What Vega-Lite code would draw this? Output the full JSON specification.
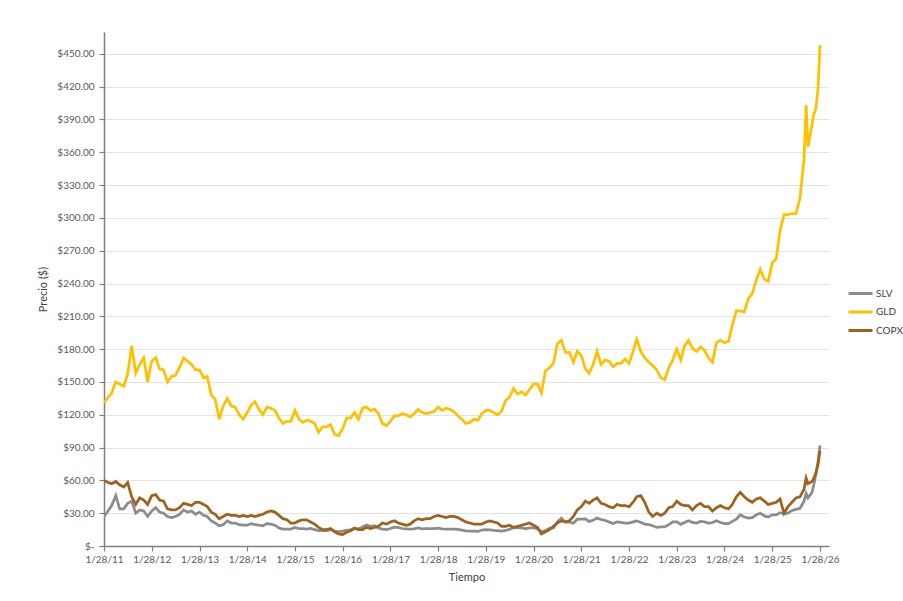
{
  "$schema": "https://vega.github.io/schema/vega-lite/v6.json",
  "autosize": {"type": "none"},
  "width": 725,
  "height": 514,
  "padding": {"left": 104, "top": 32, "right": 74, "bottom": 55},
  "background": "white",
  "config": {"view": {"stroke": null}, "font": "Lato"},
  "data": {"values": [
    {"d":"2011-01-28","SLV":27,"GLD":131,"COPX":60},
    {"d":"2011-02-28","SLV":32,"GLD":136,"COPX":58},
    {"d":"2011-03-28","SLV":37,"GLD":140,"COPX":57},
    {"d":"2011-04-28","SLV":46,"GLD":150,"COPX":59},
    {"d":"2011-05-28","SLV":34,"GLD":148,"COPX":56},
    {"d":"2011-06-28","SLV":34,"GLD":146,"COPX":54},
    {"d":"2011-07-28","SLV":39,"GLD":157,"COPX":58},
    {"d":"2011-08-28","SLV":41,"GLD":183,"COPX":45},
    {"d":"2011-09-28","SLV":30,"GLD":158,"COPX":38},
    {"d":"2011-10-28","SLV":33,"GLD":166,"COPX":44},
    {"d":"2011-11-28","SLV":32,"GLD":172,"COPX":42},
    {"d":"2011-12-28","SLV":27,"GLD":150,"COPX":38},
    {"d":"2012-01-28","SLV":32,"GLD":169,"COPX":46},
    {"d":"2012-02-28","SLV":35,"GLD":172,"COPX":47},
    {"d":"2012-03-28","SLV":31,"GLD":162,"COPX":42},
    {"d":"2012-04-28","SLV":30,"GLD":161,"COPX":41},
    {"d":"2012-05-28","SLV":27,"GLD":150,"COPX":34},
    {"d":"2012-06-28","SLV":26,"GLD":155,"COPX":33},
    {"d":"2012-07-28","SLV":27,"GLD":156,"COPX":33},
    {"d":"2012-08-28","SLV":29,"GLD":163,"COPX":35},
    {"d":"2012-09-28","SLV":33,"GLD":172,"COPX":39},
    {"d":"2012-10-28","SLV":31,"GLD":169,"COPX":38},
    {"d":"2012-11-28","SLV":32,"GLD":166,"COPX":37},
    {"d":"2012-12-28","SLV":29,"GLD":161,"COPX":40},
    {"d":"2013-01-28","SLV":31,"GLD":161,"COPX":40},
    {"d":"2013-02-28","SLV":28,"GLD":154,"COPX":38},
    {"d":"2013-03-28","SLV":27,"GLD":155,"COPX":36},
    {"d":"2013-04-28","SLV":23,"GLD":138,"COPX":31},
    {"d":"2013-05-28","SLV":21,"GLD":134,"COPX":29},
    {"d":"2013-06-28","SLV":18.5,"GLD":116,"COPX":25},
    {"d":"2013-07-28","SLV":19.5,"GLD":128,"COPX":27},
    {"d":"2013-08-28","SLV":23,"GLD":135,"COPX":29},
    {"d":"2013-09-28","SLV":21,"GLD":128,"COPX":28},
    {"d":"2013-10-28","SLV":21,"GLD":127,"COPX":28},
    {"d":"2013-11-28","SLV":19.5,"GLD":120,"COPX":27},
    {"d":"2013-12-28","SLV":19,"GLD":116,"COPX":28},
    {"d":"2014-01-28","SLV":19,"GLD":122,"COPX":27},
    {"d":"2014-02-28","SLV":20.5,"GLD":129,"COPX":28},
    {"d":"2014-03-28","SLV":19.5,"GLD":132,"COPX":27},
    {"d":"2014-04-28","SLV":19,"GLD":125,"COPX":28},
    {"d":"2014-05-28","SLV":18.5,"GLD":120,"COPX":29},
    {"d":"2014-06-28","SLV":20.5,"GLD":127,"COPX":31},
    {"d":"2014-07-28","SLV":20,"GLD":126,"COPX":32},
    {"d":"2014-08-28","SLV":19,"GLD":124,"COPX":31},
    {"d":"2014-09-28","SLV":16.5,"GLD":117,"COPX":28},
    {"d":"2014-10-28","SLV":15.5,"GLD":112,"COPX":25},
    {"d":"2014-11-28","SLV":15.5,"GLD":114,"COPX":24},
    {"d":"2014-12-28","SLV":15.5,"GLD":114,"COPX":21},
    {"d":"2015-01-28","SLV":17,"GLD":124,"COPX":21},
    {"d":"2015-02-28","SLV":16,"GLD":116,"COPX":23},
    {"d":"2015-03-28","SLV":16,"GLD":113,"COPX":24},
    {"d":"2015-04-28","SLV":15.5,"GLD":115,"COPX":24},
    {"d":"2015-05-28","SLV":16,"GLD":114,"COPX":22},
    {"d":"2015-06-28","SLV":15,"GLD":112,"COPX":20},
    {"d":"2015-07-28","SLV":14,"GLD":104,"COPX":17},
    {"d":"2015-08-28","SLV":14,"GLD":109,"COPX":15},
    {"d":"2015-09-28","SLV":14,"GLD":109,"COPX":15},
    {"d":"2015-10-28","SLV":15,"GLD":111,"COPX":16},
    {"d":"2015-11-28","SLV":13.5,"GLD":102,"COPX":13},
    {"d":"2015-12-28","SLV":13.2,"GLD":101,"COPX":11},
    {"d":"2016-01-28","SLV":13.5,"GLD":107,"COPX":10.5},
    {"d":"2016-02-28","SLV":14.5,"GLD":117,"COPX":12.5},
    {"d":"2016-03-28","SLV":14.8,"GLD":117,"COPX":14},
    {"d":"2016-04-28","SLV":16.5,"GLD":122,"COPX":16},
    {"d":"2016-05-28","SLV":15.5,"GLD":116,"COPX":15},
    {"d":"2016-06-28","SLV":17.5,"GLD":126,"COPX":15},
    {"d":"2016-07-28","SLV":19.2,"GLD":127,"COPX":17},
    {"d":"2016-08-28","SLV":18,"GLD":124,"COPX":16},
    {"d":"2016-09-28","SLV":18.5,"GLD":125,"COPX":17},
    {"d":"2016-10-28","SLV":16.5,"GLD":121,"COPX":18},
    {"d":"2016-11-28","SLV":15.5,"GLD":112,"COPX":21},
    {"d":"2016-12-28","SLV":15,"GLD":110,"COPX":20},
    {"d":"2017-01-28","SLV":16,"GLD":114,"COPX":22},
    {"d":"2017-02-28","SLV":17.2,"GLD":119,"COPX":23},
    {"d":"2017-03-28","SLV":17,"GLD":119,"COPX":21},
    {"d":"2017-04-28","SLV":16,"GLD":121,"COPX":20},
    {"d":"2017-05-28","SLV":15.7,"GLD":120,"COPX":19},
    {"d":"2017-06-28","SLV":15.4,"GLD":118,"COPX":20},
    {"d":"2017-07-28","SLV":15.6,"GLD":121,"COPX":23},
    {"d":"2017-08-28","SLV":16.5,"GLD":125,"COPX":25},
    {"d":"2017-09-28","SLV":15.7,"GLD":122,"COPX":24},
    {"d":"2017-10-28","SLV":15.8,"GLD":121,"COPX":25},
    {"d":"2017-11-28","SLV":15.8,"GLD":122,"COPX":25},
    {"d":"2017-12-28","SLV":15.9,"GLD":123,"COPX":27},
    {"d":"2018-01-28","SLV":16.3,"GLD":127,"COPX":28},
    {"d":"2018-02-28","SLV":15.6,"GLD":124,"COPX":27},
    {"d":"2018-03-28","SLV":15.4,"GLD":126,"COPX":26},
    {"d":"2018-04-28","SLV":15.5,"GLD":125,"COPX":27},
    {"d":"2018-05-28","SLV":15.4,"GLD":123,"COPX":27},
    {"d":"2018-06-28","SLV":15.2,"GLD":119,"COPX":26},
    {"d":"2018-07-28","SLV":14.6,"GLD":116,"COPX":24},
    {"d":"2018-08-28","SLV":13.8,"GLD":112,"COPX":22},
    {"d":"2018-09-28","SLV":13.5,"GLD":113,"COPX":21},
    {"d":"2018-10-28","SLV":13.5,"GLD":116,"COPX":20},
    {"d":"2018-11-28","SLV":13.3,"GLD":115,"COPX":20},
    {"d":"2018-12-28","SLV":14.6,"GLD":121,"COPX":20},
    {"d":"2019-01-28","SLV":15,"GLD":124,"COPX":22},
    {"d":"2019-02-28","SLV":14.8,"GLD":124,"COPX":23},
    {"d":"2019-03-28","SLV":14.2,"GLD":122,"COPX":22},
    {"d":"2019-04-28","SLV":14,"GLD":120,"COPX":21},
    {"d":"2019-05-28","SLV":13.6,"GLD":123,"COPX":18},
    {"d":"2019-06-28","SLV":14.2,"GLD":133,"COPX":18},
    {"d":"2019-07-28","SLV":15.2,"GLD":136,"COPX":19},
    {"d":"2019-08-28","SLV":17,"GLD":144,"COPX":17},
    {"d":"2019-09-28","SLV":16.5,"GLD":139,"COPX":18},
    {"d":"2019-10-28","SLV":16.7,"GLD":141,"COPX":19},
    {"d":"2019-11-28","SLV":15.8,"GLD":138,"COPX":20},
    {"d":"2019-12-28","SLV":16.5,"GLD":143,"COPX":21},
    {"d":"2020-01-28","SLV":16.6,"GLD":148,"COPX":19},
    {"d":"2020-02-28","SLV":15.6,"GLD":148,"COPX":17},
    {"d":"2020-03-28","SLV":13,"GLD":140,"COPX":11},
    {"d":"2020-04-28","SLV":14,"GLD":160,"COPX":13},
    {"d":"2020-05-28","SLV":16.2,"GLD":163,"COPX":15},
    {"d":"2020-06-28","SLV":16.5,"GLD":167,"COPX":18},
    {"d":"2020-07-28","SLV":22,"GLD":185,"COPX":21},
    {"d":"2020-08-28","SLV":25.5,"GLD":188,"COPX":23},
    {"d":"2020-09-28","SLV":21.8,"GLD":177,"COPX":22},
    {"d":"2020-10-28","SLV":22,"GLD":177,"COPX":23},
    {"d":"2020-11-28","SLV":20.8,"GLD":168,"COPX":27},
    {"d":"2020-12-28","SLV":24.5,"GLD":178,"COPX":33},
    {"d":"2021-01-28","SLV":24.5,"GLD":174,"COPX":36},
    {"d":"2021-02-28","SLV":24.8,"GLD":162,"COPX":41},
    {"d":"2021-03-28","SLV":22.5,"GLD":158,"COPX":39},
    {"d":"2021-04-28","SLV":23.5,"GLD":166,"COPX":42},
    {"d":"2021-05-28","SLV":25.5,"GLD":178,"COPX":44},
    {"d":"2021-06-28","SLV":24.2,"GLD":166,"COPX":39},
    {"d":"2021-07-28","SLV":23.5,"GLD":170,"COPX":38},
    {"d":"2021-08-28","SLV":22,"GLD":169,"COPX":36},
    {"d":"2021-09-28","SLV":20.5,"GLD":164,"COPX":35},
    {"d":"2021-10-28","SLV":22,"GLD":167,"COPX":38},
    {"d":"2021-11-28","SLV":21.5,"GLD":167,"COPX":37},
    {"d":"2021-12-28","SLV":21,"GLD":171,"COPX":37},
    {"d":"2022-01-28","SLV":21,"GLD":167,"COPX":36},
    {"d":"2022-02-28","SLV":22,"GLD":178,"COPX":40},
    {"d":"2022-03-28","SLV":23,"GLD":189,"COPX":45},
    {"d":"2022-04-28","SLV":21.5,"GLD":178,"COPX":46},
    {"d":"2022-05-28","SLV":20,"GLD":172,"COPX":40},
    {"d":"2022-06-28","SLV":19.5,"GLD":168,"COPX":31},
    {"d":"2022-07-28","SLV":18.5,"GLD":165,"COPX":27},
    {"d":"2022-08-28","SLV":17,"GLD":161,"COPX":30},
    {"d":"2022-09-28","SLV":17.5,"GLD":154,"COPX":28},
    {"d":"2022-10-28","SLV":17.5,"GLD":152,"COPX":30},
    {"d":"2022-11-28","SLV":19.5,"GLD":163,"COPX":35},
    {"d":"2022-12-28","SLV":22,"GLD":170,"COPX":36},
    {"d":"2023-01-28","SLV":22,"GLD":180,"COPX":41},
    {"d":"2023-02-28","SLV":19.8,"GLD":170,"COPX":38},
    {"d":"2023-03-28","SLV":21.5,"GLD":183,"COPX":37},
    {"d":"2023-04-28","SLV":23,"GLD":188,"COPX":37},
    {"d":"2023-05-28","SLV":21.5,"GLD":181,"COPX":33},
    {"d":"2023-06-28","SLV":21,"GLD":178,"COPX":37},
    {"d":"2023-07-28","SLV":22.5,"GLD":182,"COPX":39},
    {"d":"2023-08-28","SLV":22,"GLD":179,"COPX":36},
    {"d":"2023-09-28","SLV":21,"GLD":172,"COPX":36},
    {"d":"2023-10-28","SLV":21.5,"GLD":168,"COPX":32},
    {"d":"2023-11-28","SLV":23,"GLD":186,"COPX":35},
    {"d":"2023-12-28","SLV":21.5,"GLD":188,"COPX":37},
    {"d":"2024-01-28","SLV":20.5,"GLD":186,"COPX":35},
    {"d":"2024-02-28","SLV":20.5,"GLD":187,"COPX":34},
    {"d":"2024-03-28","SLV":22.5,"GLD":202,"COPX":38},
    {"d":"2024-04-28","SLV":24.5,"GLD":215,"COPX":45},
    {"d":"2024-05-28","SLV":28.5,"GLD":215,"COPX":49},
    {"d":"2024-06-28","SLV":26.5,"GLD":214,"COPX":45},
    {"d":"2024-07-28","SLV":25.5,"GLD":226,"COPX":42},
    {"d":"2024-08-28","SLV":26,"GLD":231,"COPX":40},
    {"d":"2024-09-28","SLV":28.5,"GLD":243,"COPX":43},
    {"d":"2024-10-28","SLV":30,"GLD":253,"COPX":44},
    {"d":"2024-11-28","SLV":27.5,"GLD":244,"COPX":41},
    {"d":"2024-12-28","SLV":26.5,"GLD":242,"COPX":38},
    {"d":"2025-01-28","SLV":28.5,"GLD":259,"COPX":39},
    {"d":"2025-02-28","SLV":28.5,"GLD":263,"COPX":40},
    {"d":"2025-03-28","SLV":30.5,"GLD":288,"COPX":43},
    {"d":"2025-04-28","SLV":29.5,"GLD":303,"COPX":30},
    {"d":"2025-05-28","SLV":30,"GLD":303,"COPX":36},
    {"d":"2025-06-28","SLV":32.5,"GLD":304,"COPX":40},
    {"d":"2025-07-28","SLV":33.5,"GLD":304,"COPX":44},
    {"d":"2025-08-28","SLV":34.5,"GLD":318,"COPX":45},
    {"d":"2025-09-28","SLV":41,"GLD":354,"COPX":52},
    {"d":"2025-10-14","SLV":48,"GLD":403,"COPX":62},
    {"d":"2025-10-28","SLV":44,"GLD":365,"COPX":57},
    {"d":"2025-11-28","SLV":49,"GLD":385,"COPX":59},
    {"d":"2025-12-12","SLV":56,"GLD":395,"COPX":62},
    {"d":"2025-12-28","SLV":66,"GLD":400,"COPX":67},
    {"d":"2026-01-14","SLV":78,"GLD":420,"COPX":75},
    {"d":"2026-01-28","SLV":92,"GLD":458,"COPX":87}
  ]},
  "transform": [{"fold": ["SLV", "GLD", "COPX"], "as": ["serie", "precio"]}],
  "mark": {"type": "line", "strokeWidth": 2.75, "clip": true},
  "encoding": {
    "x": {
      "field": "d", "type": "temporal",
      "scale": {"type": "utc", "domain": [{"year": 2011, "month": 1, "date": 28, "utc": true}, {"year": 2026, "month": 4, "date": 7, "utc": true}]},
      "axis": {
        "title": "Tiempo",
        "values": [
          {"year": 2011, "month": 1, "date": 28, "utc": true},
          {"year": 2012, "month": 1, "date": 28, "utc": true},
          {"year": 2013, "month": 1, "date": 28, "utc": true},
          {"year": 2014, "month": 1, "date": 28, "utc": true},
          {"year": 2015, "month": 1, "date": 28, "utc": true},
          {"year": 2016, "month": 1, "date": 28, "utc": true},
          {"year": 2017, "month": 1, "date": 28, "utc": true},
          {"year": 2018, "month": 1, "date": 28, "utc": true},
          {"year": 2019, "month": 1, "date": 28, "utc": true},
          {"year": 2020, "month": 1, "date": 28, "utc": true},
          {"year": 2021, "month": 1, "date": 28, "utc": true},
          {"year": 2022, "month": 1, "date": 28, "utc": true},
          {"year": 2023, "month": 1, "date": 28, "utc": true},
          {"year": 2024, "month": 1, "date": 28, "utc": true},
          {"year": 2025, "month": 1, "date": 28, "utc": true},
          {"year": 2026, "month": 1, "date": 28, "utc": true}
        ],
        "labelExpr": "utcFormat(datum.value, '%-m/%d/%y')",
        "grid": false,
        "domainColor": "#808080", "domainWidth": 1.5,
        "tickColor": "#808080", "tickSize": 5, "tickWidth": 1.2,
        "labelFontSize": 10, "labelColor": "#595959", "labelPadding": 3,
        "labelFlush": false, "labelOverlap": false,
        "titleFontSize": 11, "titleFontWeight": "normal", "titleColor": "#404040",
        "titleY": 31, "titleBaseline": "middle"
      }
    },
    "y": {
      "field": "precio", "type": "quantitative",
      "scale": {"domain": [0, 470], "nice": false},
      "axis": {
        "title": "Precio ($)",
        "values": [0, 30, 60, 90, 120, 150, 180, 210, 240, 270, 300, 330, 360, 390, 420, 450],
        "labelExpr": "datum.value == 0 ? '$-' : '$' + format(datum.value, '.2f')",
        "grid": true, "gridColor": "#e3e3e3", "gridWidth": 1,
        "domainColor": "#808080", "domainWidth": 1.5,
        "tickColor": "#808080", "tickSize": 5, "tickWidth": 1.2,
        "labelFontSize": 10, "labelColor": "#595959", "labelPadding": 5,
        "titleFontSize": 11, "titleFontWeight": "normal", "titleColor": "#404040",
        "titleX": -61, "titleY": 257, "titleBaseline": "middle"
      }
    },
    "color": {
      "field": "serie", "type": "nominal",
      "scale": {"domain": ["SLV", "GLD", "COPX"], "range": ["#8c8c8c", "#FFC000", "#A0621A"]},
      "legend": {
        "title": null, "orient": "none", "legendX": 745, "legendY": 250,
        "padding": 0, "symbolType": "M-1.2,0H1.2", "symbolSize": 400, "symbolStrokeWidth": 3,
        "labelFontSize": 10, "labelColor": "#404040", "labelOffset": 4, "rowPadding": 0.5
      }
    }
  }
}
